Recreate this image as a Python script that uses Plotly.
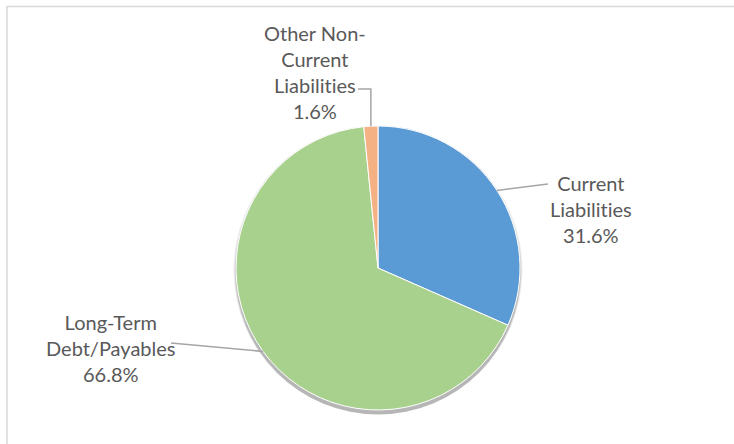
import math
import plotly.graph_objects as go

labels = ["Current Liabilities", "Long-Term Debt/Payables", "Other Non-Current Liabilities"]
label_text = ["Current<br>Liabilit\u200cies<br>31.6%", "Long-Term<br>Debt/Payables<br>66.8%", "Other Non-<br>Current<br>Liabilit\u200cies<br>1.6%"]
values = [31.6, 66.8, 1.6]
colors = ["#5B9BD5", "#A9D18E", "#F4B183"]

W, H = 734, 444
cx, cy, R = 378, 268, 142  # pixel center (from top) and radius

dom_x = [(cx - R) / W, (cx + R) / W]
dom_y = [(H - cy - R) / H, (H - cy + R) / H]

fig = go.Figure()

# soft drop shadow
shapes = []
for off, extra, op in [(2, 2.5, 0.07), (3, 1.5, 0.10), (4, 0.5, 0.14)]:
    shapes.append(dict(type="circle", xref="paper", yref="paper", layer="below",
                       x0=(cx - R - extra) / W, x1=(cx + R + extra) / W,
                       y0=(H - (cy + off) - R - extra) / H, y1=(H - (cy + off) + R + extra) / H,
                       fillcolor=f"rgba(0,0,0,{op})", line=dict(width=0)))

fig.add_trace(go.Pie(
    labels=labels, values=values, sort=False, direction="clockwise", rotation=0,
    marker=dict(colors=colors, line=dict(color="white", width=1)),
    textinfo="none", hoverinfo="label+percent", showlegend=False,
    domain=dict(x=dom_x, y=dom_y),
))

# leader-line anchor points on pie edge from slice mid-angles
total = sum(values)
mids = []
acc = 0
for v in values:
    mids.append((acc + v / 2) / total * 2 * math.pi)
    acc += v

def edge(i):
    a = mids[i]
    return cx + R * math.sin(a), cy - R * math.cos(a)

def px(x):
    return x / W

def py(y):
    return (H - y) / H

# label positions (pixel centers)
lab_pos = [(591, 209), (111, 348), (315, 72)]
line_ends = [(548, 184), (171, 343), (358, 89)]

font = dict(family="Lato, Carlito, Calibri, sans-serif", size=20, color="#595959")
annotations = []
for i in range(3):
    x, y = lab_pos[i]
    annotations.append(dict(x=px(x), y=py(y), xref="paper", yref="paper", text=label_text[i],
                            showarrow=False, font=font, align="center",
                            xanchor="center", yanchor="middle"))

line_style = dict(color="#A6A6A6", width=1.5)
for i in range(2):
    ex, ey = edge(i)
    lx, ly = line_ends[i]
    shapes.append(dict(type="line", xref="paper", yref="paper", x0=px(ex), y0=py(ey),
                       x1=px(lx), y1=py(ly), line=line_style))
ex, ey = edge(2)
lx, ly = line_ends[2]
shapes.append(dict(type="path", xref="paper", yref="paper",
                   path=f"M {px(lx)},{py(ly)} L {px(ex)},{py(ly)} L {px(ex)},{py(ey)}",
                   line=line_style))

# chart frame
shapes.append(dict(type="rect", xref="paper", yref="paper", x0=px(7), x1=1.02,
                   y0=-0.02, y1=py(6.5), line=dict(color="#D9D9D9", width=1.5), layer="below"))

fig.update_layout(width=W, height=H, margin=dict(l=0, r=0, t=0, b=0),
                  paper_bgcolor="white", plot_bgcolor="white",
                  shapes=shapes, annotations=annotations)

fig.write_html("out.html")
